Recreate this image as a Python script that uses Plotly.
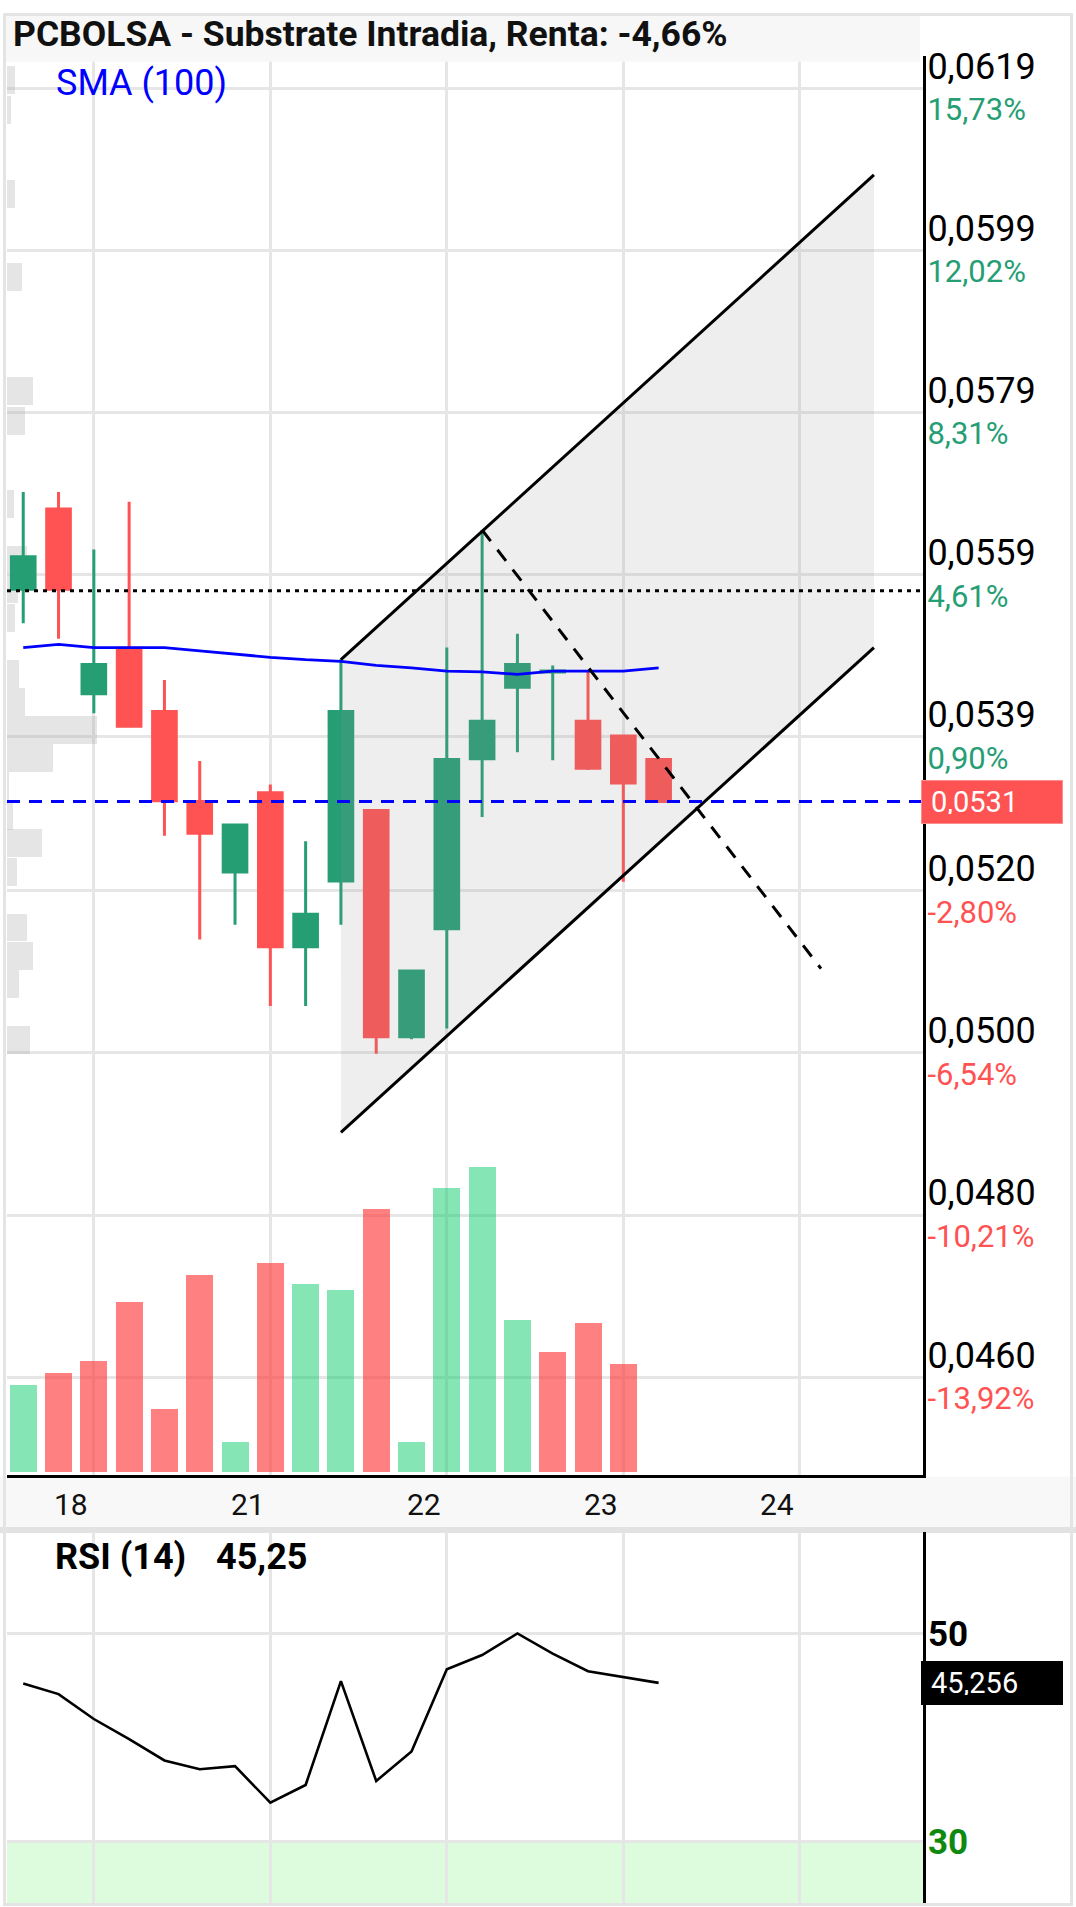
import plotly.graph_objects as go

# ------------------------------------------------------------------ data
bar_idx = list(range(19))
opens  = [0.05572, 0.05671, 0.05443, 0.05499, 0.05421, 0.05310, 0.05223, 0.05321, 0.05131, 0.05212,
          0.05299, 0.05020, 0.05153, 0.05363, 0.05451, 0.05470, 0.05409, 0.05391, 0.05362]
highs  = [0.05692, 0.05692, 0.05621, 0.05680, 0.05460, 0.05360, 0.05281, 0.05331, 0.05261, 0.05486,
          0.05299, 0.05101, 0.05500, 0.05645, 0.05517, 0.05478, 0.05470, 0.05391, 0.05362]
lows   = [0.05530, 0.05511, 0.05419, 0.05401, 0.05268, 0.05140, 0.05158, 0.05058, 0.05058, 0.05158,
          0.04999, 0.05017, 0.05030, 0.05291, 0.05371, 0.05361, 0.05349, 0.05211, 0.05309]
closes = [0.05612, 0.05572, 0.05479, 0.05403, 0.05311, 0.05271, 0.05281, 0.05131, 0.05171, 0.05421,
          0.05020, 0.05101, 0.05362, 0.05409, 0.05479, 0.05471, 0.05351, 0.05333, 0.05310]

sma100 = [0.05500, 0.05504, 0.05500, 0.05500, 0.05500, 0.05496, 0.05492, 0.05488, 0.05485, 0.05483,
          0.05478, 0.05475, 0.05471, 0.05470, 0.05467, 0.05471, 0.05471, 0.05471, 0.05475]

volume_idx = list(range(18))
volume = [87, 99, 111, 171, 63, 198, 30, 210, 189, 183, 264, 30, 285, 306, 153, 120, 150, 108]
volume_up = [True, False, False, False, False, False, True, False, True, True,
             False, True, True, True, True, False, False, False]

rsi14 = [45.2, 44.18, 41.79, 39.86, 37.81, 36.97, 37.26, 33.77, 35.46, 45.42,
         35.84, 38.68, 46.56, 47.93, 50.0, 48.06, 46.37, 45.8, 45.26]

profile_price = [0.06200, 0.06163, 0.06060, 0.05957, 0.05817, 0.05780, 0.05677, 0.05608, 0.05572, 0.05537,
                 0.05468, 0.05433, 0.05399, 0.05364, 0.05329, 0.05293, 0.05259, 0.05224, 0.05155, 0.05120,
                 0.05085, 0.05016]
profile_vol = [8, 4, 8, 15, 26, 18, 7, 20, 11, 8, 12, 18, 90, 46, 2, 6, 35, 10, 20, 26, 12, 23]

channel_x = [9, 24.1]
channel_upper = [0.05485, 0.06083]
channel_lower = [0.04902, 0.05500]
trend_x = [13, 22.6]
trend_y = [0.05645, 0.05104]

last_price = 0.0531
last_price_text = "0,0531"
prev_close = 0.0557
rsi_last = 45.256
rsi_last_text = "45,256"
rsi_header_value = "45,25"

price_ticks = [0.0619, 0.0599, 0.0579, 0.0559, 0.0539, 0.0520, 0.0500, 0.0480, 0.0460]
price_labels = ["0,0619", "0,0599", "0,0579", "0,0559", "0,0539", "0,0520", "0,0500", "0,0480", "0,0460"]
pct_labels = ["15,73%", "12,02%", "8,31%", "4,61%", "0,90%", "-2,80%", "-6,54%", "-10,21%", "-13,92%"]

day_labels = ["18", "21", "22", "23", "24"]
day_label_pos = [1.36, 6.36, 11.36, 16.36, 21.36]
grid_pos = [2, 7, 12, 17, 22]

rsi_ticks = [30, 50]
rsi_tick_labels = ["30", "50"]

title_text = "PCBOLSA - Substrate Intradia, Renta: -4,66%"

# ------------------------------------------------------------------ style
W, H = 1076, 1907
FONT = "Roboto"
GREEN = "#269e74"
RED = "#ff5252"
GRID = "#e6e6e6"


def fx(p):
    return p / W


def fy(p):
    return 1 - p / H


x_dom = [fx(7), fx(923)]
main_dom = [fy(1473), fy(46)]
rsi_dom = [fy(1903), fy(1530)]

fig = go.Figure()

# volume profile (base subplot, drawn beneath everything)
fig.add_trace(go.Bar(
    x=profile_vol, y=profile_price, orientation="h", width=0.000345,
    marker=dict(color="rgba(170,170,170,0.30)", line=dict(width=0)),
    xaxis="x", yaxis="y", hoverinfo="skip", showlegend=False))

# candles
fig.add_trace(go.Candlestick(
    x=bar_idx, open=opens, high=highs, low=lows, close=closes,
    increasing=dict(line=dict(color=GREEN, width=3), fillcolor=GREEN),
    decreasing=dict(line=dict(color=RED, width=3), fillcolor=RED),
    whiskerwidth=0, xaxis="x2", yaxis="y", showlegend=False))

# channel fill (drawn above candles)
fig.add_trace(go.Scatter(
    x=channel_x + channel_x[::-1], y=channel_upper + channel_lower[::-1],
    fill="toself", fillcolor="rgba(150,150,150,0.16)", line=dict(width=0),
    mode="lines", xaxis="x2", yaxis="y", hoverinfo="skip", showlegend=False))

# SMA 100
fig.add_trace(go.Scatter(
    x=bar_idx, y=sma100, mode="lines", line=dict(color="#0000ff", width=2.8),
    xaxis="x2", yaxis="y", showlegend=False))

# channel borders
for ys in (channel_upper, channel_lower):
    fig.add_trace(go.Scatter(
        x=channel_x, y=ys, mode="lines", line=dict(color="black", width=3),
        xaxis="x2", yaxis="y", showlegend=False))

# dashed trend line
fig.add_trace(go.Scatter(
    x=trend_x, y=trend_y, mode="lines", line=dict(color="black", width=3, dash="14px,11px"),
    xaxis="x2", yaxis="y", showlegend=False))

# volume
fig.add_trace(go.Bar(
    x=volume_idx, y=volume, width=0.765,
    marker=dict(color=["rgba(0,200,100,0.48)" if u else "rgba(255,60,60,0.65)" for u in volume_up],
                line=dict(width=0)),
    xaxis="x2", yaxis="y2", showlegend=False))

# RSI
fig.add_trace(go.Scatter(
    x=bar_idx, y=rsi14, mode="lines", line=dict(color="black", width=2.6),
    xaxis="x3", yaxis="y3", showlegend=False))

price_ticktext = [
    f"<span style='font-size:36px'>{p}</span><br>"
    f"<span style='font-size:31px;color:{GREEN if not q.startswith('-') else RED}'>{q}</span>"
    for p, q in zip(price_labels, pct_labels)]
rsi_ticktext = [f"<b><span style='color:#0f8a0f'>{t}</span></b>" if v < 50 else f"<b>{t}</b>"
                for v, t in zip(rsi_ticks, rsi_tick_labels)]

fig.update_layout(
    width=W, height=H, margin=dict(l=0, r=0, t=0, b=0),
    paper_bgcolor="white", plot_bgcolor="rgba(0,0,0,0)",
    font=dict(family=FONT, color="black"),
    showlegend=False, boxgap=0.33, boxgroupgap=0, bargap=0,
    xaxis=dict(domain=x_dom, range=[0, 916], visible=False, anchor="y", fixedrange=True),
    xaxis2=dict(overlaying="x", anchor="y", range=[-0.46, 25.49],
                tickvals=grid_pos, showticklabels=False, ticks="",
                showgrid=True, gridcolor=GRID, gridwidth=2.5, zeroline=False,
                showline=True, linecolor="black", linewidth=3,
                rangeslider=dict(visible=False)),
    yaxis=dict(domain=main_dom, range=[0.04479, 0.06230], side="right", anchor="x",
               tickvals=price_ticks, ticktext=price_ticktext, ticks="",
               ticklabelstandoff=-5, tickfont=dict(family=FONT, size=32, color="black"),
               showgrid=True, gridcolor=GRID, gridwidth=3, zeroline=False,
               showline=True, linecolor="black", linewidth=3),
    yaxis2=dict(overlaying="y", range=[-3.7, 1423.3], visible=False),
    xaxis3=dict(domain=x_dom, anchor="y3", matches="x2", tickvals=grid_pos,
                showticklabels=False, ticks="", showgrid=True, gridcolor=GRID,
                gridwidth=2.5, zeroline=False, showline=False),
    yaxis3=dict(domain=rsi_dom, range=[24.13, 59.74], side="right", anchor="x3",
                tickvals=rsi_ticks, ticktext=rsi_ticktext, ticks="", ticklabelstandoff=-5,
                tickfont=dict(family=FONT, size=35, color="black"),
                showgrid=True, gridcolor=GRID, gridwidth=3, zeroline=False,
                showline=True, linecolor="black", linewidth=3),
)

shapes = [
    # oversold zone
    dict(type="rect", xref="x3 domain", yref="y3", x0=0, x1=1, y0=0, y1=30,
         fillcolor="#ddfcdd", line=dict(width=0), layer="below"),
    # date band + separator
    dict(type="rect", xref="paper", yref="paper", x0=0, x1=1, y0=fy(1525), y1=fy(1474.5),
         fillcolor="#f8f8f8", line=dict(width=0), layer="below"),
    dict(type="rect", xref="paper", yref="paper", x0=0, x1=1, y0=fy(1531), y1=fy(1525),
         fillcolor="#e2e2e2", line=dict(width=0), layer="below"),
    # title bar
    dict(type="rect", xref="paper", yref="paper", x0=fx(4), x1=fx(920), y0=fy(52), y1=fy(4),
         fillcolor="#f7f7f7", line=dict(width=0), layer="above"),
    # previous close (dotted)
    dict(type="line", xref="x2 domain", yref="y", x0=0, x1=1, y0=prev_close, y1=prev_close,
         line=dict(color="black", width=3, dash="4px,5px"), layer="above"),
    # last price (dashed blue)
    dict(type="line", xref="x2 domain", yref="y", x0=0, x1=1, y0=last_price, y1=last_price,
         line=dict(color="#0000ff", width=3, dash="13px,9px"), layer="above"),
    # frame
    dict(type="rect", xref="paper", yref="paper", x0=fx(4.5), x1=fx(1071.5), y0=fy(1904.5), y1=fy(4.5),
         line=dict(color="#e4e4e4", width=3), fillcolor="rgba(0,0,0,0)", layer="above"),
]
fig.update_layout(shapes=shapes)

ann = [
    dict(text=title_text, xref="paper", yref="paper", x=fx(11), y=fy(24), xanchor="left",
         yanchor="middle", showarrow=False, font=dict(family=FONT, size=35.5, color="#111", weight="bold")),
    dict(text="SMA (100)", xref="paper", yref="paper", x=fx(54), y=fy(73), xanchor="left",
         yanchor="middle", showarrow=False, font=dict(family=FONT, size=36, color="#0000ff")),
    dict(text="RSI (14)", xref="paper", yref="paper", x=fx(53), y=fy(1555), xanchor="left",
         yanchor="middle", showarrow=False, font=dict(family=FONT, size=36, color="black", weight="bold")),
    dict(text=rsi_header_value, xref="paper", yref="paper", x=fx(214), y=fy(1555),
         xanchor="left", yanchor="middle", showarrow=False,
         font=dict(family=FONT, size=36, color="black", weight="bold")),
    dict(text=last_price_text, xref="paper", yref="y", x=fx(921), y=last_price, xanchor="left",
         yanchor="middle", showarrow=False, align="left", width=122, height=24, borderpad=9,
         bgcolor=RED, bordercolor="#ff8c8c", borderwidth=1,
         font=dict(family=FONT, size=29, color="white")),
    dict(text=rsi_last_text, xref="paper", yref="y3", x=fx(921), y=rsi_last, xanchor="left",
         yanchor="middle", showarrow=False, align="left", width=122, height=24, borderpad=9,
         bgcolor="black", bordercolor="black", borderwidth=1,
         font=dict(family=FONT, size=29, color="white")),
]
for lab, pos in zip(day_labels, day_label_pos):
    ann.append(dict(text=lab, xref="x2", yref="paper", x=pos, y=fy(1502), xanchor="center",
                    yanchor="middle", showarrow=False, font=dict(family=FONT, size=30, color="#111")))
fig.update_layout(annotations=ann)

fig.write_html("out.html", config={"displayModeBar": False},
               post_script="document.body.style.margin='0px';")
